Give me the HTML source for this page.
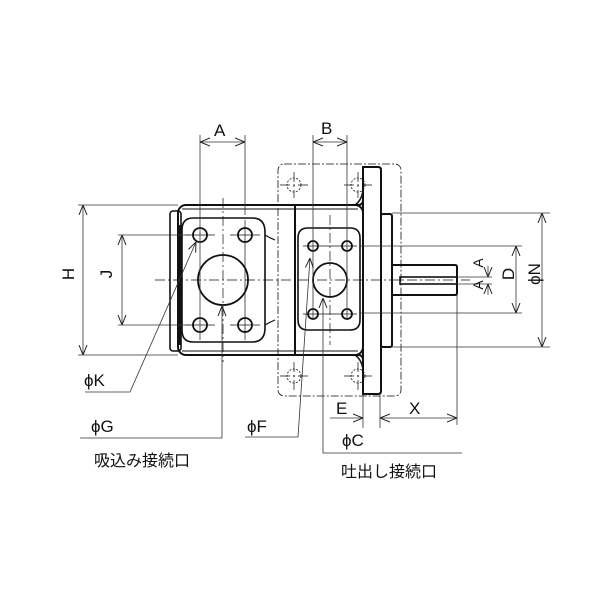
<!DOCTYPE html>
<html><head><meta charset="utf-8"><style>
html,body{margin:0;padding:0;background:#fff}
svg{display:block}
text{font-family:"Liberation Sans","Noto Sans CJK JP",sans-serif;fill:#111}
</style></head><body>
<svg width="600" height="600" viewBox="0 0 600 600" xmlns="http://www.w3.org/2000/svg">
<defs>
<marker id="ar" viewBox="0 0 10 10" refX="10" refY="5" markerWidth="10" markerHeight="10" orient="auto-start-reverse" markerUnits="userSpaceOnUse">
<path d="M0,1 L10,5 L0,9" fill="none" stroke="#222" stroke-width="1"/></marker>
</defs>
<g fill="none" stroke="#111">
<rect x="278" y="164" width="123" height="232" rx="6" stroke-width="0.8" stroke-dasharray="8,2,2,2"/>
<path d="M185,205 H358 Q363,205 363,200 M185,355 H358 Q363,355 363,360" stroke-width="2"/>
<rect x="178" y="205" width="185" height="150" rx="8" stroke-width="2"/>
<line x1="182" y1="209" x2="358" y2="209" stroke-width="1"/>
<line x1="182" y1="351" x2="358" y2="351" stroke-width="1"/>
<rect x="170" y="211" width="11" height="140" rx="3" stroke-width="1.6"/>
<line x1="180" y1="225" x2="180" y2="345" stroke-width="3"/>
<line x1="295" y1="205" x2="295" y2="355" stroke-width="2"/>
<path d="M363,167 H378 Q381,167 381,170 V391 Q381,394 378,394 H363 Z" stroke-width="2"/>
<path d="M355,205 Q362,200 363,190 M355,355 Q362,360 363,370" stroke-width="1.5"/>
<rect x="381" y="214" width="11" height="133" rx="2" stroke-width="2"/>
<path d="M392,265 H455 Q457,265 457,267 V293 Q457,295 455,295 H392" stroke-width="2"/>
<rect x="400" y="277" width="57" height="7" stroke-width="1.6"/>
<path d="M193,218 H252 Q265,218 265,232 V328 Q265,342 252,342 H193 Q182,342 182,330 V230 Q182,218 193,218 Z" stroke-width="1.6"/>
<path d="M265,235 Q270,238 275,240 M265,325 Q270,322 275,320" stroke-width="1.2"/>
<circle cx="223" cy="280" r="25" stroke-width="1.8"/>
<circle cx="200" cy="235" r="7" stroke-width="1.8"/>
<circle cx="245" cy="235" r="7" stroke-width="1.8"/>
<circle cx="200" cy="325" r="7" stroke-width="1.8"/>
<circle cx="245" cy="325" r="7" stroke-width="1.8"/>
<path d="M308,228 H350 Q360,228 360,238 V320 Q360,330 350,330 H308 Q298,330 298,320 V238 Q298,228 308,228 Z" stroke-width="1.6"/>
<circle cx="330" cy="280" r="17" stroke-width="1.8"/>
<circle cx="313" cy="246" r="5" stroke-width="1.8"/>
<circle cx="347" cy="246" r="5" stroke-width="1.8"/>
<circle cx="313" cy="314" r="5" stroke-width="1.8"/>
<circle cx="347" cy="314" r="5" stroke-width="1.8"/>
<g stroke-width="0.8" stroke-dasharray="2,1.5">
<circle cx="294" cy="185" r="7"/><circle cx="358" cy="185" r="7"/>
<circle cx="294" cy="376" r="7"/><circle cx="358" cy="376" r="7"/>
</g>
<g stroke-width="0.7" stroke-dasharray="10,3,2,3">
<line x1="155" y1="280" x2="470" y2="280"/>
<line x1="223" y1="198" x2="223" y2="362"/>
<line x1="330" y1="215" x2="330" y2="345"/>
<line x1="294" y1="172" x2="294" y2="198"/><line x1="280" y1="185" x2="308" y2="185"/>
<line x1="358" y1="172" x2="358" y2="198"/><line x1="344" y1="185" x2="372" y2="185"/>
<line x1="294" y1="362" x2="294" y2="390"/><line x1="280" y1="376" x2="308" y2="376"/>
<line x1="358" y1="362" x2="358" y2="390"/><line x1="344" y1="376" x2="372" y2="376"/>
</g>
<g stroke-width="0.7">
<line x1="185" y1="235" x2="215" y2="235"/><line x1="230" y1="235" x2="260" y2="235"/>
<line x1="185" y1="325" x2="215" y2="325"/><line x1="230" y1="325" x2="260" y2="325"/>
<line x1="245" y1="220" x2="245" y2="340"/>
<line x1="303" y1="246" x2="357" y2="246"/><line x1="303" y1="314" x2="357" y2="314"/>
</g>
<g stroke="#333" stroke-width="0.8">
<line x1="200" y1="135" x2="200" y2="340"/>
<line x1="245" y1="135" x2="245" y2="215"/>
<line x1="313" y1="135" x2="313" y2="320"/>
<line x1="347" y1="135" x2="347" y2="320"/>
<line x1="200" y1="142" x2="245" y2="142" marker-start="url(#ar)" marker-end="url(#ar)"/>
<line x1="313" y1="142" x2="347" y2="142" marker-start="url(#ar)" marker-end="url(#ar)"/>
<line x1="78" y1="205" x2="178" y2="205"/>
<line x1="78" y1="355" x2="178" y2="355"/>
<line x1="83" y1="205" x2="83" y2="355" marker-start="url(#ar)" marker-end="url(#ar)"/>
<line x1="118" y1="235" x2="190" y2="235"/>
<line x1="118" y1="325" x2="190" y2="325"/>
<line x1="122" y1="235" x2="122" y2="325" marker-start="url(#ar)" marker-end="url(#ar)"/>
<line x1="392" y1="213" x2="550" y2="213"/>
<line x1="392" y1="347" x2="550" y2="347"/>
<line x1="542" y1="213" x2="542" y2="347" marker-start="url(#ar)" marker-end="url(#ar)"/>
<line x1="360" y1="246" x2="522" y2="246"/>
<line x1="360" y1="313" x2="522" y2="313"/>
<line x1="516" y1="246" x2="516" y2="313" marker-start="url(#ar)" marker-end="url(#ar)"/>
<line x1="457" y1="277" x2="492" y2="277"/>
<line x1="457" y1="284" x2="492" y2="284"/>
<line x1="488" y1="266" x2="488" y2="277" marker-end="url(#ar)"/>
<line x1="488" y1="295" x2="488" y2="284" marker-end="url(#ar)"/>
<line x1="363" y1="394" x2="363" y2="428"/>
<line x1="380" y1="394" x2="380" y2="428"/>
<line x1="457" y1="295" x2="457" y2="425"/>
<line x1="330" y1="418" x2="363" y2="418" marker-end="url(#ar)"/>
<line x1="380" y1="418" x2="457" y2="418" marker-start="url(#ar)" marker-end="url(#ar)"/>
<polyline points="85,392 130,392 196,242" marker-end="url(#ar)"/>
<polyline points="80,438 222,438 222,306" marker-end="url(#ar)"/>
<polyline points="245,437 298,437 310,258" marker-end="url(#ar)"/>
<polyline points="462,453 323,453 323,298" marker-end="url(#ar)"/>
</g>
</g>
<g font-size="17">
<text x="214" y="136">A</text>
<text x="321" y="134">B</text>
<text x="74" y="286" transform="rotate(-90 68 280)" text-anchor="middle">H</text>
<text x="112" y="286" transform="rotate(-90 106 280)" text-anchor="middle">J</text>
<text x="84" y="386">ϕK</text>
<text x="91" y="432">ϕG</text>
<text x="247" y="432">ϕF</text>
<text x="342" y="446">ϕC</text>
<text x="336" y="414">E</text>
<text x="409" y="414">X</text>
<text x="514" y="286" transform="rotate(-90 508 280)" text-anchor="middle">D</text>
<text x="540" y="286" transform="rotate(-90 534 280)" text-anchor="middle">ϕN</text>
<text x="483" y="273" font-size="14" transform="rotate(-90 478 268)" text-anchor="middle">A</text>
<text x="483" y="295" font-size="14" transform="rotate(-90 478 290)" text-anchor="middle">A</text>
<text x="94" y="466" font-size="16">吸込み接続口</text>
<text x="341" y="477" font-size="16">吐出し接続口</text>
</g>
</svg>
</body></html>
